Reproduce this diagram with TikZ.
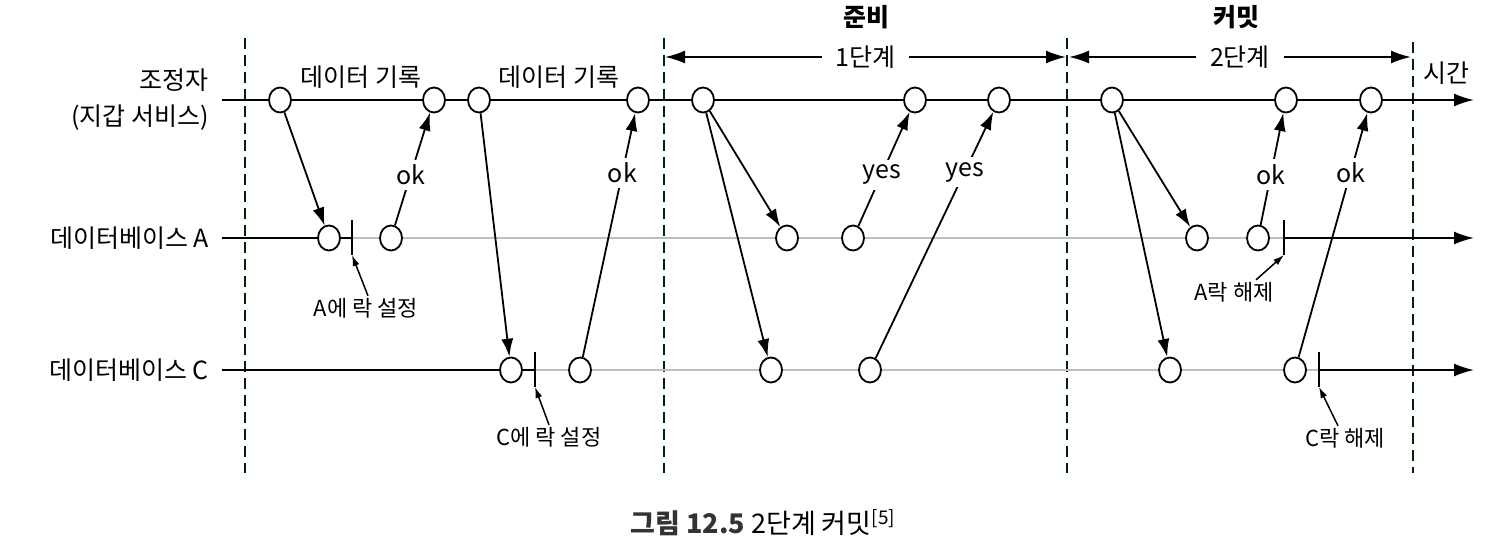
\documentclass[tikz,border=0pt]{standalone}
\usepackage{fontspec}
\setmainfont{Noto Sans CJK KR}
\usetikzlibrary{arrows.meta,shapes.geometric}
\begin{document}
\begin{tikzpicture}[x=1pt,y=-1pt,
  font=\fontsize{25}{36}\selectfont,
  ev/.style={draw, fill=white, ellipse, minimum width=22pt, minimum height=25pt, inner sep=0pt, line width=1.8pt},
  msg/.style={-{Latex[length=18pt,width=12pt]}, line width=1.8pt},
  lbl/.style={fill=white, inner sep=5pt},
  ptr/.style={-{Latex[length=11pt,width=7pt]}, line width=1.5pt},
  axis/.style={line width=2pt},
  axisarr/.style={line width=2pt, -{Latex[length=20pt,width=13pt]}},
  grayline/.style={line width=1.8pt, gray!50},
  tick/.style={line width=2pt},
  sep/.style={line width=2pt, dash pattern=on 11pt off 6pt, black!85!green},
  phase/.style={line width=2pt, {Latex[length=20pt,width=13pt]}-{Latex[length=20pt,width=13pt]}},
]
\useasboundingbox (0,0) rectangle (1486,556);
\fill[white] (0,0) rectangle (1486,556);

% separators
\foreach \n/\x/\t in {d1/245/38, d2/664/38, d3/1067/38, d4/1413/42}{
  \coordinate (\n t) at (\x,\t);
  \coordinate (\n b) at (\x,473);
  \draw[sep] (\n t) -- (\n b);
}

% phase headers
\node[font=\fontsize{25}{30}\selectfont\bfseries] (hprep) at (866,17) {준비};
\node[font=\fontsize{25}{30}\selectfont\bfseries] (hcommit) at (1236,17) {커밋};
\coordinate (p1l) at (665,57);
\coordinate (p1r) at (1066,57);
\coordinate (p2l) at (1069,57);
\coordinate (p2r) at (1411,57);
\draw[phase] (p1l) -- node[fill=white, inner xsep=14pt, inner ysep=2pt] (ph1) {1단계} (p1r);
\draw[phase] (p2l) -- node[fill=white, inner xsep=14pt, inner ysep=2pt] (ph2) {2단계} (p2r);

% timelines
\coordinate (ks) at (222,100);
\coordinate (ke) at (1474,100);
\coordinate (as) at (222,238);
\coordinate (ae) at (1474,238);
\coordinate (cs) at (222,370);
\coordinate (ce) at (1474,370);

% lock ticks
\coordinate (tAlt) at (352,220); \coordinate (tAlb) at (352,255); \coordinate (tAl) at (352,238);
\coordinate (tAut) at (1284,220); \coordinate (tAub) at (1284,255); \coordinate (tAu) at (1284,238);
\coordinate (tClt) at (535,352); \coordinate (tClb) at (535,387); \coordinate (tCl) at (535,370);
\coordinate (tCut) at (1319,352); \coordinate (tCub) at (1319,387); \coordinate (tCu) at (1319,370);

\draw[axisarr] (ks) -- (ke);
\draw[grayline] (tAl) -- (tAu);
\draw[axis] (as) -- (tAl);
\draw[axisarr] (tAu) -- (ae);
\draw[grayline] (tCl) -- (tCu);
\draw[axis] (cs) -- (tCl);
\draw[axisarr] (tCu) -- (ce);
\draw[tick] (tAlt) -- (tAlb);
\draw[tick] (tAut) -- (tAub);
\draw[tick] (tClt) -- (tClb);
\draw[tick] (tCut) -- (tCub);

% labels on the left
\node[anchor=east, align=right, inner sep=0pt] (lk) at (209,100) {조정자\\(지갑 서비스)};
\node[anchor=east, inner sep=0pt] (la) at (209,238) {데이터베이스 A};
\node[anchor=east, inner sep=0pt] (lc) at (209,370) {데이터베이스 C};
\node (time) at (1446,73) {시간};
\node (w1) at (361,77) {데이터 기록};
\node (w2) at (559,77) {데이터 기록};

% events
\foreach \n/\x in {k1/280,k2/434,k3/479,k4/638,k5/703,k6/915,k7/999,k8/1112,k9/1286,k10/1371}
  \node[ev] (\n) at (\x,100) {};
\foreach \n/\x in {a1/329,a2/391,a3/787,a4/853,a5/1197,a6/1258}
  \node[ev] (\n) at (\x,238) {};
\foreach \n/\x in {c1/511,c2/580,c3/771,c4/870,c5/1170,c6/1295}
  \node[ev] (\n) at (\x,370) {};

% messages
\draw[msg] (k1) -- (a1);
\draw[msg] (a2) -- node[lbl, pos=0.45] (m1) {ok} (k2);
\draw[msg] (k3) -- (c1);
\draw[msg] (c2) -- node[lbl, pos=0.755] (m2) {ok} (k4);
\draw[msg] (k5) -- (a3);
\draw[msg] (k5) -- (c3);
\draw[msg] (a4) -- node[lbl, pos=0.45] (m3) {yes} (k6);
\draw[msg] (c4) -- node[lbl, pos=0.755] (m4) {yes} (k7);
\draw[msg] (k8) -- (a5);
\draw[msg] (k8) -- (c5);
\draw[msg] (a6) -- node[lbl, pos=0.45] (m5) {ok} (k9);
\draw[msg] (c6) -- node[lbl, pos=0.755] (m6) {ok} (k10);

% lock annotations
\node[inner sep=2pt, font=\fontsize{22}{26}\selectfont] (lal) at (366,308) {A에 락 설정};
\node[inner sep=2pt, font=\fontsize{22}{26}\selectfont] (lcl) at (549,437) {C에 락 설정};
\node[inner sep=2pt, font=\fontsize{22}{26}\selectfont] (lau) at (1234,292) {A락 해제};
\node[inner sep=2pt, font=\fontsize{22}{26}\selectfont] (lcu) at (1345,438) {C락 해제};
\draw[ptr] ([xshift=2pt]lal.north) -- (tAlb);
\draw[ptr] (lcl.north) -- (tClb);
\draw[ptr] ([xshift=22pt]lau.north) -- (tAub);
\draw[ptr] ([xshift=-7pt]lcu.north) -- (tCub);

% caption
\node[font=\fontsize{27}{32}\selectfont] (cap) at (763,523) {{\bfseries\color{black!80}그림 12.5} 2단계 커밋\textsuperscript{[5]}};
\end{tikzpicture}
\end{document}
